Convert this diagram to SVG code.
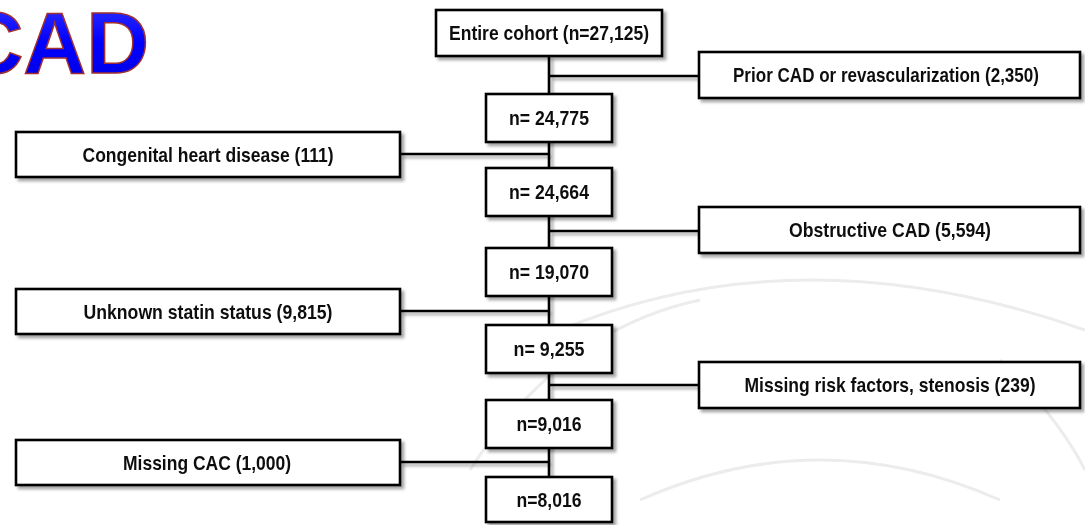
<svg xmlns="http://www.w3.org/2000/svg" width="1085" height="525" viewBox="0 0 1085 525">
<style>
.box{fill:#fff;stroke:#000;stroke-width:2.6}
.lbl{font-family:"Liberation Sans Narrow","Liberation Sans",Arial,sans-serif;font-weight:bold;font-size:20.5px;fill:#111;text-anchor:middle}
.con{stroke:#000;stroke-width:2.6;fill:none}
.wm{fill:none;stroke:#ececec;stroke-width:3}
</style>
<defs>
<filter id="sh" x="-5%" y="-20%" width="115%" height="160%">
<feDropShadow dx="3" dy="3" stdDeviation="1.8" flood-color="#000" flood-opacity="0.35"/>
</filter>
<linearGradient id="tg" x1="0" y1="0" x2="0" y2="1">
<stop offset="0" stop-color="#3a3aff"/>
<stop offset="0.5" stop-color="#0000ff"/>
<stop offset="1" stop-color="#0000e0"/>
</linearGradient>
</defs>
<rect width="1085" height="525" fill="#fff"/>
<g id="watermark">
<path class="wm" d="M560 330 Q800 230 1085 330"/>
<path class="wm" d="M470 470 Q560 330 700 300"/>
<path class="wm" d="M640 500 Q820 420 1000 500"/>
<path class="wm" d="M1000 360 Q1060 420 1085 470"/>
</g>
<g id="title">
<text x="149" y="73" font-family="'Liberation Sans',Arial,sans-serif" font-weight="bold" font-size="87" text-anchor="end" fill="url(#tg)" stroke="#a03030" stroke-width="1.5">CAD</text>
</g>
<g id="connectors" filter="url(#sh)">
<line class="con" x1="549" y1="56" x2="549" y2="477"/>
<line class="con" x1="549" y1="76" x2="699" y2="76"/>
<line class="con" x1="400" y1="154" x2="549" y2="154"/>
<line class="con" x1="549" y1="231" x2="699" y2="231"/>
<line class="con" x1="400" y1="311" x2="549" y2="311"/>
<line class="con" x1="549" y1="385" x2="699" y2="385"/>
<line class="con" x1="400" y1="462" x2="549" y2="462"/>
</g>
<g id="n-entire" filter="url(#sh)"><rect class="box" x="436" y="10" width="226" height="46"/><text class="lbl" x="549" y="40" textLength="200" lengthAdjust="spacingAndGlyphs">Entire cohort (n=27,125)</text></g>
<g id="n-prior" filter="url(#sh)"><rect class="box" x="699" y="52" width="381" height="46"/><text class="lbl" x="886" y="82" textLength="306" lengthAdjust="spacingAndGlyphs">Prior CAD or revascularization (2,350)</text></g>
<g id="n-24775" filter="url(#sh)"><rect class="box" x="486" y="94" width="126" height="48"/><text class="lbl" x="549" y="125" textLength="80" lengthAdjust="spacingAndGlyphs">n= 24,775</text></g>
<g id="n-congenital" filter="url(#sh)"><rect class="box" x="16" y="132" width="384" height="45"/><text class="lbl" x="208" y="162" textLength="251" lengthAdjust="spacingAndGlyphs">Congenital heart disease (111)</text></g>
<g id="n-24664" filter="url(#sh)"><rect class="box" x="486" y="168" width="126" height="48"/><text class="lbl" x="549" y="199" textLength="80" lengthAdjust="spacingAndGlyphs">n= 24,664</text></g>
<g id="n-obstructive" filter="url(#sh)"><rect class="box" x="699" y="207" width="381" height="46"/><text class="lbl" x="890" y="237" textLength="202" lengthAdjust="spacingAndGlyphs">Obstructive CAD (5,594)</text></g>
<g id="n-19070" filter="url(#sh)"><rect class="box" x="486" y="248" width="126" height="48"/><text class="lbl" x="549" y="279" textLength="80" lengthAdjust="spacingAndGlyphs">n= 19,070</text></g>
<g id="n-statin" filter="url(#sh)"><rect class="box" x="16" y="289" width="384" height="45"/><text class="lbl" x="208" y="319" textLength="249" lengthAdjust="spacingAndGlyphs">Unknown statin status (9,815)</text></g>
<g id="n-9255" filter="url(#sh)"><rect class="box" x="486" y="325" width="126" height="48"/><text class="lbl" x="549" y="356" textLength="71" lengthAdjust="spacingAndGlyphs">n= 9,255</text></g>
<g id="n-risk" filter="url(#sh)"><rect class="box" x="699" y="362" width="381" height="46"/><text class="lbl" x="890" y="392" textLength="291" lengthAdjust="spacingAndGlyphs">Missing risk factors, stenosis (239)</text></g>
<g id="n-9016" filter="url(#sh)"><rect class="box" x="486" y="400" width="126" height="48"/><text class="lbl" x="549" y="431" textLength="65" lengthAdjust="spacingAndGlyphs">n=9,016</text></g>
<g id="n-cac" filter="url(#sh)"><rect class="box" x="16" y="440" width="384" height="45"/><text class="lbl" x="207" y="470" textLength="168" lengthAdjust="spacingAndGlyphs">Missing CAC (1,000)</text></g>
<g id="n-8016" filter="url(#sh)"><rect class="box" x="486" y="477" width="126" height="45"/><text class="lbl" x="549" y="507" textLength="65" lengthAdjust="spacingAndGlyphs">n=8,016</text></g>
</svg>
